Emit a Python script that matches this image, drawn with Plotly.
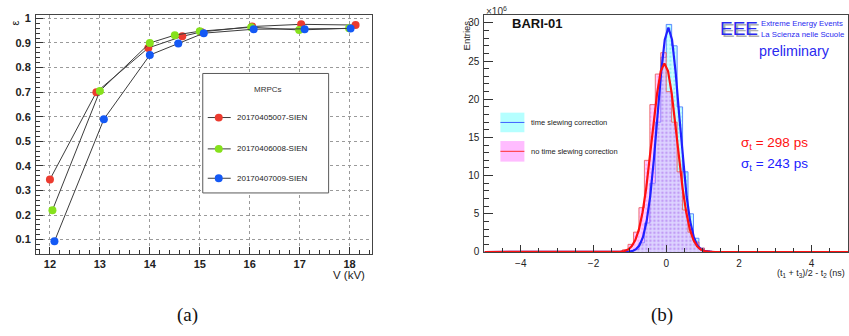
import plotly.graph_objects as go

W, H = 849, 336
def px(x): return x / W
def py(y): return 1 - y / H

FONT = "Liberation Sans, Arial, Helvetica, sans-serif"
SERIF = "Liberation Serif, Times New Roman, serif"

# ---------------- Panel (a): efficiency vs HV ----------------
mrpc_names = ["20170405007-SIEN", "20170406008-SIEN", "20170407009-SIEN"]
voltage_red = [12.0, 12.93, 13.97, 14.65, 15.03, 16.05, 17.03, 18.12]
eff_red = [0.345, 0.700, 0.880, 0.927, 0.945, 0.967, 0.976, 0.973]
voltage_green = [12.05, 13.0, 14.0, 14.5, 15.0, 16.03, 16.99, 17.99]
eff_green = [0.220, 0.705, 0.900, 0.932, 0.948, 0.964, 0.953, 0.960]
voltage_blue = [12.09, 13.08, 14.0, 14.57, 15.08, 16.08, 17.1, 18.02]
eff_blue = [0.093, 0.590, 0.851, 0.898, 0.940, 0.956, 0.956, 0.959]

# ---------------- Panel (b): time difference histograms (x10^6 entries) ----------------
bin_edges = [-1.2, -1.05, -0.9, -0.75, -0.6, -0.45, -0.3, -0.15, 0.0,
             0.15, 0.3, 0.45, 0.6, 0.75, 0.9, 1.05, 1.2]
counts_corr = [0.0, 0.05, 0.3, 1.2, 3.8, 9.0, 17.0, 25.5,
               29.8, 27.0, 19.0, 10.5, 5.0, 1.8, 0.5, 0.1]
counts_nocorr = [0.3, 1.0, 2.6, 5.8, 12.0, 19.3, 23.3, 26.1,
                 21.0, 17.0, 10.5, 5.5, 2.6, 1.3, 0.5, 0.15]

fit_corr_x = [-5.0, -1.24, -1.14, -1.04, -0.94, -0.84, -0.74, -0.64, -0.54, -0.44, -0.34,
              -0.24, -0.14, -0.04, 0.06, 0.16, 0.26, 0.36, 0.46, 0.56, 0.66, 0.76,
              0.86, 0.96, 1.06, 1.16, 1.26, 1.36, 5.0]
fit_corr_y = [0.0, 0.0, 0.01, 0.04, 0.11, 0.33, 0.84, 1.93, 3.98, 7.3, 12.1,
              17.8, 23.5, 27.8, 29.4, 27.8, 23.5, 17.8, 12.1, 7.3, 3.98, 1.93,
              0.84, 0.33, 0.11, 0.04, 0.01, 0.0, 0.0]
fit_nocorr_x = [-5.0, -1.45, -1.35, -1.25, -1.15, -1.05, -0.95, -0.85, -0.75, -0.65, -0.55,
                -0.45, -0.35, -0.25, -0.15, -0.05, 0.05, 0.15, 0.25, 0.35, 0.45,
                0.55, 0.65, 0.75, 0.85, 0.95, 1.05, 1.15, 1.25, 1.35, 5.0]
fit_nocorr_y = [0.0, 0.0, 0.02, 0.05, 0.13, 0.33, 0.74, 1.55, 2.96, 5.2, 8.37,
                12.35, 16.7, 20.8, 23.7, 24.7, 23.7, 20.8, 16.7, 12.35, 8.37,
                5.2, 2.96, 1.55, 0.74, 0.33, 0.13, 0.05, 0.02, 0.0, 0.0]
hist_names = ["time slewing correction", "no time slewing correction"]
sigma_labels = ["σ<sub>t</sub> = 298 ps", "σ<sub>t</sub> = 243 ps"]

fig = go.Figure()

marker_colors = ["#ec3b2f", "#86e11c", "#1459f5"]
for name, xs, ys, c in zip(mrpc_names,
                           [voltage_red, voltage_green, voltage_blue],
                           [eff_red, eff_green, eff_blue], marker_colors):
    fig.add_trace(go.Scatter(
        x=xs, y=ys, mode="lines+markers", name=name, showlegend=False,
        line=dict(color="#3c3c3c", width=1),
        marker=dict(color=c, size=8, line=dict(width=0)),
        xaxis="x", yaxis="y"))


def step_xy(edges, counts):
    return [edges[0]] + list(edges), [0] + list(counts) + [0]

hx, hy = step_xy(bin_edges, counts_corr)
fig.add_trace(go.Scatter(
    x=hx, y=hy, mode="lines", line_shape="hv", name=hist_names[0], showlegend=False,
    line=dict(color="rgba(70,120,255,0.85)", width=1),
    fill="tozeroy", fillcolor="rgba(110,255,255,0.35)",
    fillpattern=dict(shape=".", fgcolor="rgba(0,200,220,0.55)",
                     bgcolor="rgba(110,255,255,0.35)", size=4, solidity=0.3),
    xaxis="x2", yaxis="y2"))
hx, hy = step_xy(bin_edges, counts_nocorr)
fig.add_trace(go.Scatter(
    x=hx, y=hy, mode="lines", line_shape="hv", name=hist_names[1], showlegend=False,
    line=dict(color="rgba(235,90,90,0.85)", width=1),
    fill="tozeroy", fillcolor="rgba(255,120,255,0.33)",
    fillpattern=dict(shape=".", fgcolor="rgba(230,0,230,0.45)",
                     bgcolor="rgba(255,120,255,0.33)", size=4, solidity=0.3),
    xaxis="x2", yaxis="y2"))
fig.add_trace(go.Scatter(
    x=fit_corr_x, y=fit_corr_y, mode="lines", showlegend=False, name="fit (corrected)",
    line=dict(color="#2020ff", width=2.2), xaxis="x2", yaxis="y2"))
fig.add_trace(go.Scatter(
    x=fit_nocorr_x, y=fit_nocorr_y, mode="lines", showlegend=False, name="fit (uncorrected)",
    line=dict(color="#ff1010", width=2.2), xaxis="x2", yaxis="y2"))

axis_common = dict(showline=True, linecolor="#444", linewidth=1, mirror=True,
                   ticks="inside", tickcolor="#333", zeroline=False)

fig.update_layout(
    width=W, height=H, autosize=False,
    margin=dict(l=0, r=0, t=0, b=0),
    paper_bgcolor="white", plot_bgcolor="white",
    font=dict(family=FONT, color="#222"),
    showlegend=False,
    xaxis=dict(domain=[px(36), px(372)], range=[11.72, 18.44], tick0=12, dtick=1,
               ticklen=7, showgrid=True, gridcolor="#9a9a9a", griddash="dot", gridwidth=1,
               tickfont=dict(family=FONT, size=11, color="#222", weight="bold"),
               ticklabelstandoff=0,
               minor=dict(ticks="inside", ticklen=3.5, dtick=0.2, tick0=12,
                          tickcolor="#333", showgrid=False),
               anchor="y", **axis_common),
    yaxis=dict(domain=[py(257), py(13)], range=[0.043, 1.015], tick0=0, dtick=0.1,
               ticklen=7.5, showgrid=True, gridcolor="#9a9a9a", griddash="dot", gridwidth=1,
               tickfont=dict(family=FONT, size=11, color="#222", weight="bold"),
               ticklabelstandoff=2,
               minor=dict(ticks="inside", ticklen=4, dtick=0.02, tick0=0,
                          tickcolor="#333", showgrid=False),
               anchor="x", **axis_common),
    xaxis2=dict(domain=[px(485), 1.0], range=[-5, 5], tick0=0, dtick=2,
                ticklen=6.5, showgrid=False,
                tickfont=dict(family=FONT, size=10, color="#222"),
                ticklabelstandoff=2,
                minor=dict(ticks="inside", ticklen=3.5, dtick=0.5, tick0=0,
                           tickcolor="#333", showgrid=False),
                anchor="y2", **axis_common),
    yaxis2=dict(domain=[py(255.3), py(13)], range=[0, 31.07], tick0=0, dtick=5,
                ticklen=9, showgrid=False,
                tickfont=dict(family=FONT, size=10, color="#222"),
                ticklabelstandoff=2,
                minor=dict(ticks="inside", ticklen=5, dtick=1, tick0=0,
                           tickcolor="#333", showgrid=False),
                anchor="x2", **axis_common),
)

ann = []
# panel (a) texts
ann.append(dict(text="ε", x=px(15), y=py(21), textangle=-90, font=dict(size=11, color="#222")))
ann.append(dict(text="V (kV)", x=px(349), y=py(278.5), font=dict(size=11.5, color="#222")))
ann.append(dict(text="(a)", x=px(187.3), y=py(319.3), font=dict(family=SERIF, size=19, color="#111")))
ann.append(dict(text="(b)", x=px(662.7), y=py(319.3), font=dict(family=SERIF, size=19, color="#111")))
# panel (a) legend
ann.append(dict(text="MRPCs", x=px(268), y=py(89), font=dict(size=8, color="#333")))
legend_rows = [118, 150, 180]
for name, yrow in zip(mrpc_names, legend_rows):
    ann.append(dict(text=name, x=px(235), y=py(yrow), xanchor="left", font=dict(size=8, color="#222")))
# panel (b) texts
ann.append(dict(text="×10<sup>6</sup>", x=px(485), y=py(1), xanchor="left", yanchor="top",
                font=dict(size=10, color="#333")))
ann.append(dict(text="Entries", x=px(466.7), y=py(34), textangle=-90, font=dict(size=9.5, color="#222")))
ann.append(dict(text="<b>BARI-01</b>", x=px(537.7), y=py(22), font=dict(size=13, color="#111")))
ann.append(dict(text="EEE", x=px(718.5), y=py(27), xanchor="left",
                font=dict(size=19, color="#2a2af0", shadow="2px 2px 0px #b0b0b0")))
ann.append(dict(text="Extreme Energy Events", x=px(760), y=py(22.3), xanchor="left",
                font=dict(size=7.8, color="#2a2af0")))
ann.append(dict(text="La Scienza nelle Scuole", x=px(760), y=py(32.7), xanchor="left",
                font=dict(size=7.8, color="#2a2af0")))
ann.append(dict(text="preliminary", x=px(758), y=py(50), xanchor="left",
                font=dict(size=14.3, color="#2a2af0")))
ann.append(dict(text=sigma_labels[0], x=px(740), y=py(144), xanchor="left",
                font=dict(size=13.5, color="#ff1010")))
ann.append(dict(text=sigma_labels[1], x=px(740), y=py(166), xanchor="left",
                font=dict(size=13.5, color="#2020ff")))
ann.append(dict(text=hist_names[0], x=px(530), y=py(123), xanchor="left",
                font=dict(size=7.5, color="#222")))
ann.append(dict(text=hist_names[1], x=px(530), y=py(152.5), xanchor="left",
                font=dict(size=7.5, color="#222")))
ann.append(dict(text="(t<sub>1</sub> + t<sub>3</sub>)/2 - t<sub>2</sub> (ns)", x=px(848), y=py(277),
                xanchor="right", font=dict(size=9, color="#222")))
for a in ann:
    a.setdefault("xref", "paper")
    a.setdefault("yref", "paper")
    a.setdefault("showarrow", False)
    a.setdefault("xanchor", "center")
    a.setdefault("yanchor", "middle")
fig.update_layout(annotations=ann)

def pline(x0, x1, y0, y1, color, width=1):
    return dict(type="line", xref="paper", yref="paper", x0=px(x0), x1=px(x1),
                y0=py(y0), y1=py(y1), line=dict(color=color, width=width))

shapes = []
# panel (a) legend box and glyphs
shapes.append(dict(type="rect", xref="paper", yref="paper", x0=px(203), x1=px(329),
                   y0=py(195), y1=py(73), fillcolor="white", line=dict(color="#5a5a5a", width=1),
                   layer="above"))
for c, yrow in zip(marker_colors, legend_rows):
    shapes.append(pline(208, 231, yrow, yrow, "#3c3c3c", 1))
    shapes.append(dict(type="circle", xref="paper", yref="paper", x0=px(215), x1=px(223),
                       y0=py(yrow + 4), y1=py(yrow - 4), fillcolor=c, line=dict(width=0)))
# panel (b) legend glyphs
shapes += [
    dict(type="rect", xref="paper", yref="paper", x0=px(501), x1=px(525), y0=py(133), y1=py(113),
         fillcolor="rgba(150,255,255,0.7)", line=dict(width=0)),
    pline(501, 525, 123, 123, "#4060ff", 1),
    dict(type="rect", xref="paper", yref="paper", x0=px(501), x1=px(525), y0=py(163), y1=py(142),
         fillcolor="rgba(255,160,255,0.7)", line=dict(width=0)),
    pline(501, 525, 152.5, 152.5, "#ff3030", 1),
]
fig.update_layout(shapes=shapes)

fig.write_html("out.html", config={"displayModeBar": False},
               post_script="document.body.style.margin='0';document.body.style.overflow='hidden';")
